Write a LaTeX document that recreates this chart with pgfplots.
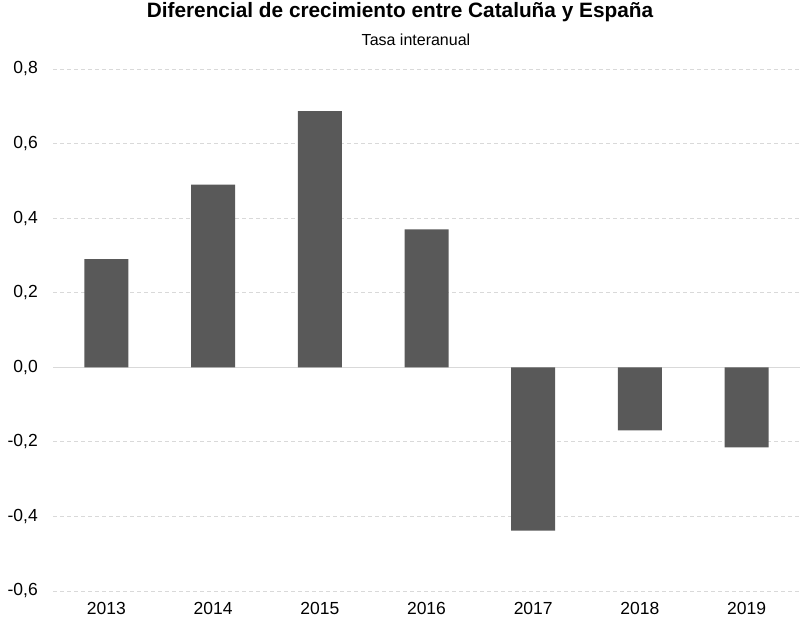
\documentclass[border=0pt]{standalone}
\usepackage{fontspec}
\setmainfont{Liberation Sans}
\usepackage{pgfplots}
\pgfplotsset{compat=1.18}
\definecolor{barc}{HTML}{595959}
\definecolor{gridc}{HTML}{D9D9D9}
\begin{document}
\begin{tikzpicture}[x=1pt,y=1pt]
\path[use as bounding box] (-53,-35) rectangle (747,591);
\begin{axis}[
  at={(0,0)}, anchor=south west,
  scale only axis, width=747pt, height=522pt,
  xmin=-0.5, xmax=6.5, ymin=-0.6, ymax=0.8,
  axis line style={draw=none},
  ytick={-0.6,-0.4,...,0.8},
  xtick={0,...,6},
  xticklabels={2013,2014,2015,2016,2017,2018,2019},
  major tick length=0pt,
  ymajorgrids, grid style={gridc, dash pattern=on 4pt off 3pt, line width=0.9pt},
  /pgf/number format/assume math mode=true,
  /pgf/number format/.cd, fixed, fixed zerofill, precision=1, use comma, /pgfplots/.cd,
  yticklabel style={font=\fontsize{17.5}{20}\selectfont, inner sep=0pt, anchor=east, xshift=-15pt},
  xticklabel style={font=\fontsize{17.5}{20}\selectfont, inner sep=0pt, anchor=north, yshift=-11pt},
  clip=false,
]
\draw[gridc, line width=1pt] (axis cs:-0.5,0) -- (axis cs:6.5,0);
\addplot[ybar, bar width=44pt, fill=barc, draw=none] coordinates {
  (0,0.29) (1,0.49) (2,0.687) (3,0.37) (4,-0.438) (5,-0.169) (6,-0.215)
};
\end{axis}
\node[font=\bfseries\fontsize{20.8}{24}\selectfont] at (347,579) {Diferencial de crecimiento entre Cataluña y España};
\node[font=\fontsize{16}{19}\selectfont] at (363,551) {Tasa interanual};
\end{tikzpicture}
\end{document}
